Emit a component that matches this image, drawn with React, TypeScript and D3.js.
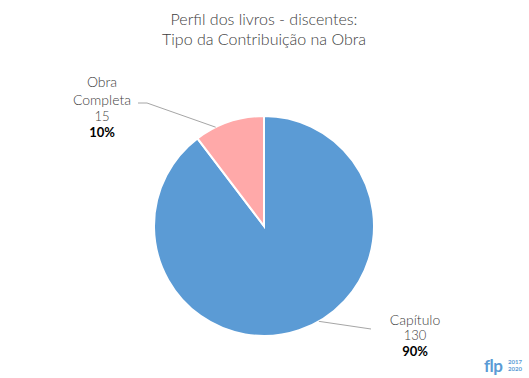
import React from "react";
import * as d3 from "d3";

const categories = ["Capítulo", "Obra Completa"];
const values = [130, 15];
const percents = ["90%", "10%"];
const colors = ["#5B9BD5", "#FFA9A9"];
const titleLines = ["Perfil dos livros - discentes:", "Tipo da Contribuição na Obra"];

export default function App() {
  const W = 529, H = 378;
  const cx = 264, cy = 226, r = 110;
  const pie = d3.pie<number>().sort(null).value((d) => d);
  const arcs = pie(values);
  const arc = d3.arc<d3.PieArcDatum<number>>().innerRadius(0).outerRadius(r);
  const font = "Lato, 'Open Sans', sans-serif";

  const edge = (a: d3.PieArcDatum<number>, frac: number) => {
    const ang = a.startAngle + (a.endAngle - a.startAngle) * frac;
    return [cx + Math.sin(ang) * r, cy - Math.cos(ang) * r];
  };
  const capEdge = edge(arcs[0], 0.465);
  const obraEdge = edge(arcs[1], 0.3);

  return (
    <div style={{ position: "absolute", left: 0, top: 0 }}>
      <svg width={W} height={H} style={{ display: "block", background: "#fff" }}>
        <g fontFamily={font} fill="#404040" fontWeight={300}>
          {titleLines.map((t, i) => (
            <text key={i} x={cx} y={25 + i * 20} textAnchor="middle" fontSize={16}>
              {t}
            </text>
          ))}
        </g>
        <g transform={`translate(${cx},${cy})`}>
          {arcs.map((a, i) => (
            <path key={i} d={arc(a) || ""} fill={colors[i]} stroke="#fff" strokeWidth={2} />
          ))}
        </g>
        <polyline
          points={`${obraEdge[0]},${obraEdge[1]} 147,103 138,103`}
          fill="none"
          stroke="#A6A6A6"
          strokeWidth={1}
        />
        <polyline
          points={`${capEdge[0]},${capEdge[1]} 371,329`}
          fill="none"
          stroke="#A6A6A6"
          strokeWidth={1}
        />
        <g fontFamily={font} fill="#404040" fontSize={14} textAnchor="middle" fontWeight={300}>
          <text x={102} y={87}>Obra</text>
          <text x={102} y={105}>Completa</text>
          <text x={102} y={121} fontSize={13}>{values[1]}</text>
          <text x={102} y={137} fontSize={13} fontWeight="bold" fill="#000">{percents[1]}</text>
          <text x={415} y={325}>{categories[0]}</text>
          <text x={415} y={340} fontSize={13}>{values[0]}</text>
          <text x={415} y={356} fontSize={13} fontWeight="bold" fill="#000">{percents[0]}</text>
        </g>
        <g fontFamily={font} fill="#5B9BD5" fontWeight="bold">
          <text x={484} y={372} fontSize={17} letterSpacing={-0.5}>flp</text>
          <text x={508} y={364} fontSize={6}>2017</text>
          <text x={508} y={371} fontSize={6}>2020</text>
        </g>
      </svg>
    </div>
  );
}
